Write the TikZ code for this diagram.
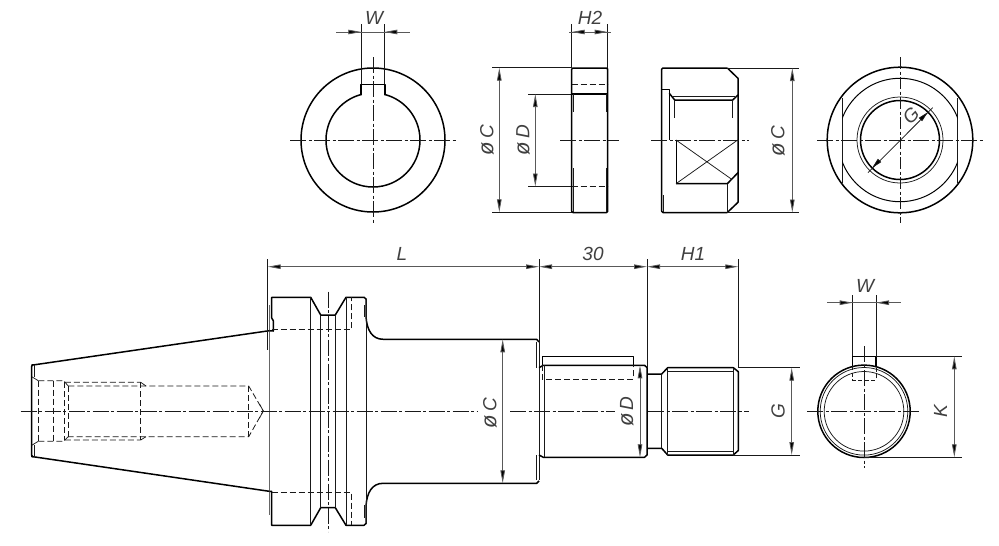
\documentclass[tikz,border=0pt]{standalone}
\usepackage{fontspec}
\setmainfont{Liberation Sans}
\usetikzlibrary{arrows.meta}
\tikzset{
 thickl/.style={line width=1.5pt,black,line join=round},
 thinl/.style={line width=0.75pt,black!90},
 hid/.style={line width=0.8pt,black!90,dash pattern=on 6pt off 3pt},
 ctr/.style={line width=0.75pt,black!90,dash pattern=on 16pt off 2.5pt on 3pt off 2.5pt},
 dimk/.style={line width=0.85pt,black!65},
 dimtip/.style={-{Triangle[length=13pt,width=4.5pt,fill=black]},dimk},
 dimboth/.style={{Triangle[length=13pt,width=4.5pt,fill=black]}-{Triangle[length=13pt,width=4.5pt,fill=black]},dimk},
 lab/.style={font=\fontsize{19}{19}\selectfont\itshape,inner sep=0pt,text=black!75},
}
\newcommand{\dia}[1]{{\fontsize{22}{22}\selectfont ø}\,#1}
\begin{document}
\begin{tikzpicture}[x=1pt,y=-1pt]
\useasboundingbox (0,0) rectangle (999,546);
% ---------- View 1
\draw[thickl] (373,140) circle (72);
\draw[thickl] (373,140) circle (47);
\fill[white] (361.8,84) rectangle (384.2,96);
\draw[thickl] (361,95) -- (361,84.5) -- (385,84.5) -- (385,95);
\draw[ctr] (290,140) -- (457,140);
\draw[ctr] (373,57) -- (373,223);
\draw[thinl] (361.3,24) -- (361.3,84) (384.3,24) -- (384.3,84);
\draw[dimk] (336,32) -- (410,32);
\draw[dimtip] (348,32) -- (361.3,32);
\draw[dimtip] (397.7,32) -- (384.3,32);
\node[lab] (w1) at (374,18) {W};
\draw[thinl] (492,67.7) -- (572,67.7) (492,212.3) -- (572,212.3);
\draw[thinl] (528,94) -- (572,94) (528,186.5) -- (572,186.5);
\draw[dimboth] (499.3,67.7) -- (499.3,212.3);
\draw[dimboth] (535.3,94) -- (535.3,186.5);
\node[lab,rotate=90] (c1) at (487,140) {\dia{C}};
\node[lab,rotate=90] (d1) at (523,140) {\dia{D}};
% ---------- View 2
\draw[thickl,rounded corners=1.2pt] (571.7,68) rectangle (607.7,212.5);
\draw[thickl] (571.7,94) -- (607.7,94);
\draw[hid] (571.7,84.7) -- (607.7,84.7) (571.7,186) -- (607.7,186);
\draw[thinl] (573.3,94) -- (573.3,112) (606,94) -- (606,112) (573.3,168) -- (573.3,212) (606,168) -- (606,212);
\draw[ctr] (560,140) -- (619,140);
\draw[thinl] (571.7,24) -- (571.7,68) (607.7,24) -- (607.7,68);
\draw[dimk] (569,32) -- (610.7,32);
\draw[dimboth] (571.7,32) -- (607.7,32);
\node[lab] (h2) at (590,18) {H2};
% ---------- View 3
\draw[thickl,rounded corners=1.2pt] (727.3,68) -- (661.7,68) -- (661.7,212.5) -- (727.3,212.5);
\draw[thickl] (727.3,68) -- (738,78.3) -- (738,202.3) -- (727.3,212.5);
\draw[thickl] (661.7,89.3) -- (669.3,89.3) -- (669.3,140);
\draw[thickl] (669.3,93.3) -- (674.7,100) -- (732.7,100) -- (738,95);
\draw[thinl] (672,96.7) -- (735,96.7);
\draw[thinl] (674.7,100) -- (674.7,118.3) (732.7,100) -- (732.7,118.3);
\draw[thickl,line width=1pt] (676,140) -- (676,183.7);
\draw[thickl] (676,183.7) -- (727.3,183.7) -- (738,172.7);
\draw[thinl] (676,140) -- (731.7,179.3) (676,183.7) -- (737.7,140);
\draw[thinl] (727.3,183.7) -- (727.3,212.5);
\draw[thinl] (663.2,195) -- (663.2,212);
\draw[ctr] (651,140) -- (749,140);
\draw[thinl] (727,68) -- (799.3,68) (727,212.5) -- (799.3,212.5);
\draw[dimboth] (792.3,68) -- (792.3,212.5);
\node[lab,rotate=90] (c2) at (778,141) {\dia{C}};
% ---------- View 4
\draw[thickl] (900,140) circle (72.8);
\draw[thinl] (842.3,98) -- (842.3,183) (957.7,98) -- (957.7,183);
\begin{scope}
\clip (842.3,60) rectangle (957.7,220);
\draw[thickl,line width=1pt] (900,140) circle (61.7);
\end{scope}
\draw[thickl] (900,140) circle (39.5);
\draw[thinl] (900,140) circle (43);
\draw[ctr] (817,140) -- (984,140);
\draw[hid,dash pattern=on 12pt off 2.5pt on 3pt off 2.5pt] (900,57) -- (900,223);
\draw[thinl] (868,172.7) -- (932.7,107.7);
\draw[-{Triangle[length=10.5pt,width=4.5pt,fill=black]},thinl] (920.5,119.5) -- (927.9,112.1);
\draw[-{Triangle[length=10.5pt,width=4.5pt,fill=black]},thinl] (879.5,160.5) -- (872.1,167.9);
\node[lab,rotate=45] (g1) at (911,115.7) {G};
% ---------- Main view
\draw[thickl,rounded corners=1.2pt] (269.3,330.7) -- (33,365) -- (31.7,365) -- (31.7,456.7) -- (33,456.7) -- (269.3,491.3);
\draw[thinl] (34,365) -- (34,377) (34,445) -- (34,456.7);
\draw[thinl] (31.7,376.7) -- (38.3,380.7) (31.7,445.3) -- (38.3,441.3);
\draw[line width=1pt,black!60] (269,305) -- (269,515);
\draw[thickl] (269.3,330.7) -- (273.3,331) -- (273.3,320.7) -- (271.7,318) -- (271.7,297.3) -- (310.7,297.3) -- (320.7,315) -- (335.3,315) -- (346,297.3) -- (364,297.3) -- (366,299) -- (366,317) .. controls (367,330) and (372,339.3) .. (383.3,339.3) -- (536.7,339.3) -- (539,342);
\draw[thickl] (269.3,491.3) -- (271.7,491.3) -- (271.7,525.3) -- (310.7,525.3) -- (320.7,507.7) -- (335.3,507.7) -- (346,525.3) -- (364,525.3) -- (366,523.5) -- (366,505.6) .. controls (367,492.6) and (372,483.3) .. (383.3,483.3) -- (536.7,483.3) -- (539,481);
\draw[thinl] (310.7,297.3) -- (310.7,525.3) (320.7,315) -- (320.7,507.7) (335.3,315) -- (335.3,507.7) (346,297.3) -- (346,525.3) (366,299) -- (366,523.5);
\draw[thinl] (364.5,305) -- (364.5,317) (364.5,505) -- (364.5,518);
\draw[ctr] (328.3,291.7) -- (328.3,531.7);
\draw[hid] (271.7,329.3) -- (351.7,329.3) -- (351.7,297.3);
\draw[hid] (271.7,492.7) -- (351.7,492.7) -- (351.7,525.3);
% hidden bore
\draw[hid] (38.3,380.7) -- (62,380.7) -- (64.5,382.3) -- (140.7,382.3);
\draw[hid] (38.3,441.3) -- (62,441.3) -- (64.5,440) -- (140.7,440);
\draw[hid] (68.3,386) -- (248.7,386) -- (263.3,411) -- (248.7,436.7) -- (68.3,436.7);
\draw[hid] (38.3,380.7) -- (38.3,441.3) (53.7,380.7) -- (53.7,441.3) (64.3,382.3) -- (64.3,440) (68.3,386) -- (68.3,436.7) (140.7,382.3) -- (140.7,440) (248.7,386) -- (248.7,436.7);
\draw[thinl] (64.3,381.5) -- (68.3,386) (64.3,440.5) -- (68.3,436.7) (140.7,382.3) -- (146,386) (140.7,440) -- (146,436.7) (259.5,404) -- (263.3,411) -- (259.5,418);
% shaft
\draw[thinl] (539,345) -- (539,480);
\draw[thinl] (536,341.7) -- (536,367.7) (536,455) -- (536,480);
\draw[thickl] (539,367.7) -- (543.3,365.3) -- (644.5,365.3) -- (647,367.5) -- (647,455) -- (644.5,457.3) -- (543.3,457.3) -- (539,455);
\draw[thinl] (544,365.3) -- (544,457.3);
\draw[thickl] (542.3,365.3) -- (542.3,356.7) -- (633.3,356.7) -- (633.3,365.3);
\draw[hid] (542.3,365.3) -- (542.3,379.3) -- (633.3,379.3) -- (633.3,365.3);
\draw[thickl] (647,374) -- (661.7,374) -- (667.7,367.7) -- (733.3,367.7) -- (738.3,371.7) -- (738.3,450.5) -- (733.3,455) -- (667.7,455) -- (661.7,448.3) -- (647,448.3);
\draw[thinl] (661.7,374) -- (661.7,448.3) (667.7,367.7) -- (667.7,455) (733.3,367.7) -- (733.3,455) (667.7,371.7) -- (733.3,371.7) (667.7,451.7) -- (733.3,451.7);
\draw[ctr] (20.7,411) -- (477,411) (510,411) -- (615,411) (648,411) -- (749.3,411);
% top dims
\draw[thinl] (267.7,259) -- (267.7,350);
\draw[thinl] (539,259) -- (539,345) (647,259) -- (647,367) (738.3,259) -- (738.3,367.7);
\draw[dimboth] (267.7,266.7) -- (539,266.7);
\draw[dimboth] (539,266.7) -- (647,266.7);
\draw[dimboth] (647,266.7) -- (738.3,266.7);
\node[lab] (l) at (402,254) {L};
\node[lab] (n30) at (593,254) {30};
\node[lab] (h1) at (693,254) {H1};
\draw[dimboth] (502.7,339.3) -- (502.7,483.3);
\node[lab,rotate=90] (c3) at (490,413) {\dia{C}};
\draw[dimboth] (640,365.3) -- (640,457.3);
\node[lab,rotate=90] (d3) at (626.7,411.5) {\dia{D}};
\draw[thinl] (738,367.7) -- (800,367.7) (733,455) -- (800,455);
\draw[dimboth] (791.7,367.7) -- (791.7,455);
\node[lab,rotate=90] (g2) at (778,411.5) {G};
% ---------- View 5
\draw[thickl] (864,411.3) circle (46.2);
\draw[thinl] (864,411.3) circle (43.8);
\draw[thinl] (864,411.3) circle (39.8);
\draw[thickl] (852.7,366.5) -- (852.7,356.3) -- (876,356.3) -- (876,366.5);
\draw[hid,dash pattern=on 4pt off 2.5pt] (852.7,366) -- (852.7,380) -- (876,380) -- (876,366);
\draw[ctr] (807.3,411.3) -- (920.7,411.3);
\draw[ctr] (864,346) -- (864,468.3);
\draw[thinl] (852.7,295) -- (852.7,356) (876,295) -- (876,356);
\draw[dimk] (827.3,302.7) -- (901,302.7);
\draw[dimtip] (839.5,302.7) -- (852.7,302.7);
\draw[dimtip] (889,302.7) -- (876,302.7);
\node[lab] (w2) at (865,285.7) {W};
\draw[thinl] (876,356.3) -- (961.7,356.3) (864,457.3) -- (961.7,457.3);
\draw[dimboth] (954.3,356.3) -- (954.3,457.3);
\node[lab,rotate=90] (k) at (940.7,411.3) {K};
\end{tikzpicture}
\end{document}
